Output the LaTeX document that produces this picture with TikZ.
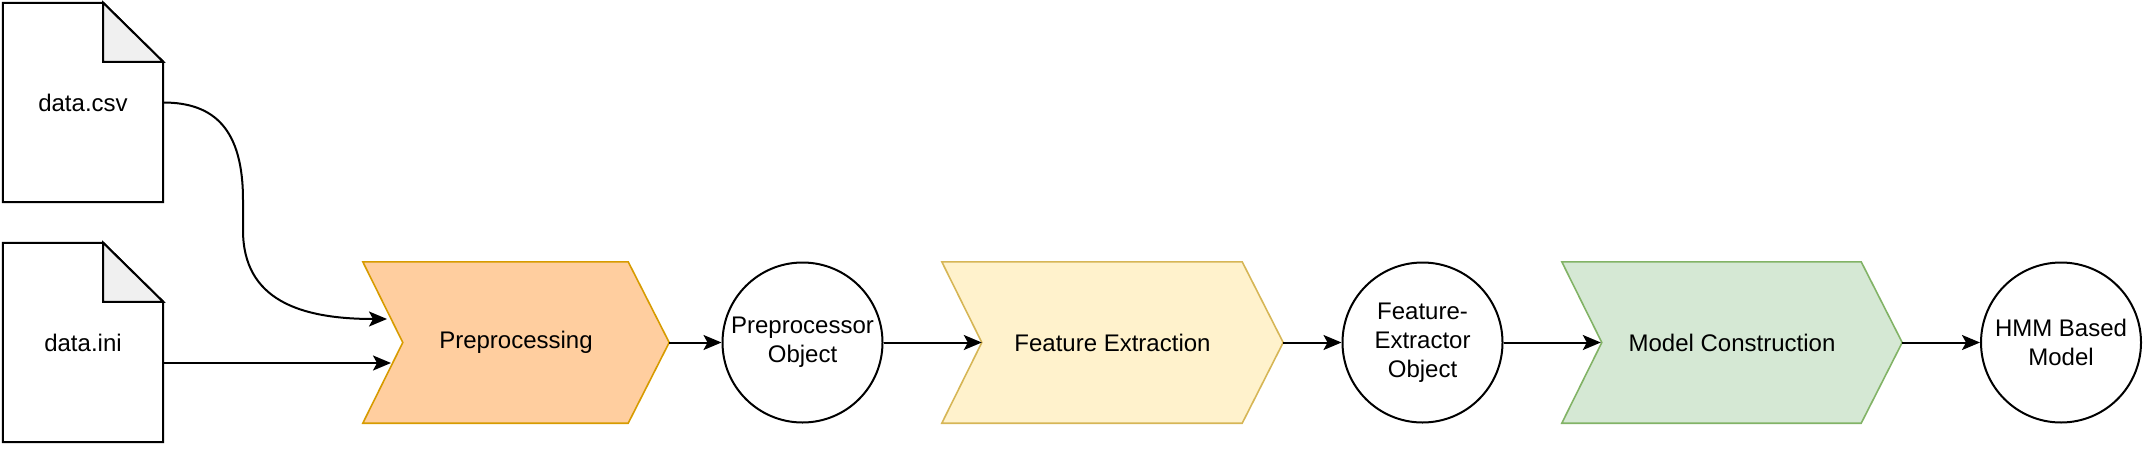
\documentclass[tikz,border=0pt]{standalone}
\usepackage{fontspec}
\setmainfont{Liberation Sans}
\usetikzlibrary{arrows.meta, backgrounds}

\definecolor{preFill}{HTML}{FFCE9F}
\definecolor{preDraw}{HTML}{D79B00}
\definecolor{featFill}{HTML}{FFF2CC}
\definecolor{featDraw}{HTML}{D6B656}
\definecolor{modelFill}{HTML}{D5E8D4}
\definecolor{modelDraw}{HTML}{82B366}
\definecolor{foldGray}{HTML}{F0F0F0}

\begin{document}
\begin{tikzpicture}[x=1pt, y=-1pt,
        font=\fontsize{24}{29}\selectfont,
        file/.style={minimum width=160pt, minimum height=199pt, inner sep=0pt},
        stage/.style={minimum height=161pt, inner sep=0pt},
        result/.style={circle, draw, line width=2pt, fill=white, minimum size=160pt, inner sep=0pt, align=center},
        flow/.style={line width=2pt, -{Stealth[length=18pt, width=15pt, inset=4pt]}}]
        \useasboundingbox (0,0) rectangle (2144,450);

        \node[file] (csv) at (83,102.5) {data.csv};
        \node[file] (ini) at (83,342.5) {data.ini};
        \node[stage, minimum width=306pt] (pre) at (516,342.5) {Preprocessing};
        \node[result] (preobj) at (802.5,342.5) {Preprocessor\\Object};
        \node[stage, minimum width=341pt] (feat) at (1112.5,342.5) {Feature Extraction};
        \node[result] (featobj) at (1422.5,342.5) {Feature-\\Extractor\\Object};
        \node[stage, minimum width=340pt] (model) at (1732,342.5) {Model Construction};
        \node[result] (hmm) at (2061,342.5) {HMM Based\\Model};

        \coordinate (csvIn) at (387,319);
        \coordinate (iniIn) at (391,363);
        \coordinate (featIn) at ([xshift=40pt]feat.west);
        \coordinate (modelIn) at ([xshift=39pt]model.west);

        \begin{scope}[on background layer]
            % files with folded corner
            \foreach \f in {csv, ini} {
                \draw[line width=2pt, fill=white] (\f.south west) -- (\f.north west)
                    -- ([xshift=-60pt]\f.north east) -- ([yshift=-59pt]\f.north east)
                    -- (\f.south east) -- cycle;
                \draw[line width=2pt, fill=foldGray] ([xshift=-60pt]\f.north east)
                    |- ([yshift=-59pt]\f.north east) -- cycle;
            }
            % process steps
            \foreach \s in {pre, feat, model} {
                \draw[line width=1.6pt, draw=\s Draw, fill=\s Fill] (\s.north west)
                    -- ([xshift=-41pt]\s.north east) -- (\s.east)
                    -- ([xshift=-41pt]\s.south east) -- (\s.south west)
                    -- ([xshift=40pt]\s.west) -- cycle;
            }
        \end{scope}

        \draw[flow] (csv.east) .. controls (215,102.5) and (243,130) .. (243,200)
            -- (243,230) .. controls (243,300) and (300,319) .. (csvIn);
        \draw[flow] (ini.east |- iniIn) -- (iniIn);
        \draw[flow] (pre.east) -- (preobj);
        \draw[flow] (preobj) -- (featIn);
        \draw[flow] (feat.east) -- (featobj);
        \draw[flow] (featobj) -- (modelIn);
        \draw[flow] (model.east) -- (hmm);
    \end{tikzpicture}
\end{document}
